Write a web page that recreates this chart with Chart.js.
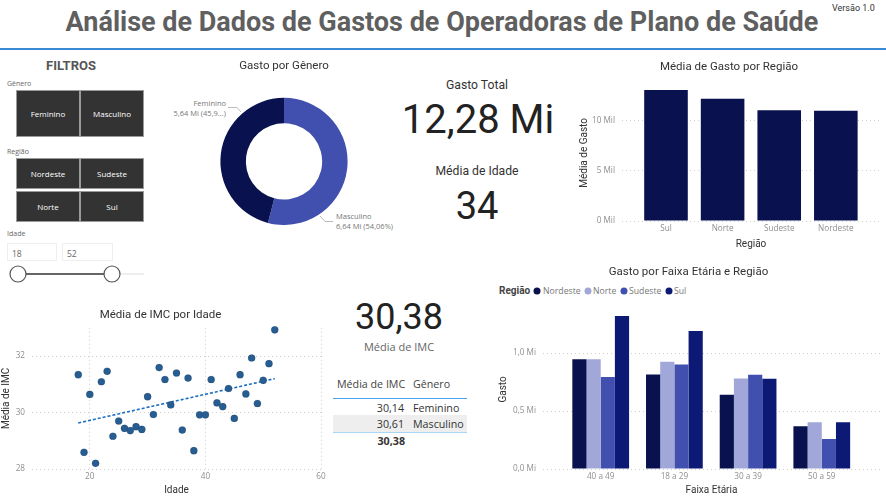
<!DOCTYPE html>
<html lang="pt-BR">
<head>
<meta charset="utf-8">
<title>Análise de Dados de Gastos</title>
<script src="https://cdn.jsdelivr.net/npm/chart.js@4/dist/chart.umd.min.js"></script>
<style>
  html, body { margin: 0; padding: 0; background: #fff; }
  #page { position: relative; width: 886px; height: 496px; overflow: hidden; font-family: "Open Sans", sans-serif; color: #333; }
  #page canvas { position: absolute; }
  .t { position: absolute; white-space: nowrap; line-height: 1; }
  .c { transform: translate(-50%, -50%); }
  .m { transform: translateY(-50%); }
  .din { font-family: Roboto, sans-serif; }
  .btn { position: absolute; background: #333; border: 1px solid #9a9a9a; box-sizing: border-box; color: #fff; font-size: 8px; display: flex; align-items: center; justify-content: center; }
  .inp { position: absolute; border: 1px solid #eee; box-sizing: border-box; font-size: 8.5px; color: #666; padding: 4px 4px; height: 18px; }
  .dot { position: absolute; width: 7px; height: 7px; border-radius: 50%; transform: translate(-50%, -50%); }
</style>
</head>
<body>
<div id="page">
  <div class="t c din" style="left:442px;top:22px;font-size:27px;font-weight:700;color:#5f5f5f">Análise de Dados de Gastos de Operadoras de Plano de Saúde</div>
  <div class="t m din" style="left:832px;top:8px;font-size:9px;color:#333">Versão 1.0</div>
  <div style="position:absolute;left:0;top:48px;width:886px;height:1.5px;background:#3b8ad6"></div>

  <div class="t c din" style="left:71px;top:65px;font-size:13px;font-weight:700;color:#555">FILTROS</div>
  <div class="t m" style="left:7px;top:83px;font-size:7px;color:#666">Gênero</div>
  <div class="btn" style="left:16px;top:90px;width:64px;height:47px">Feminino</div>
  <div class="btn" style="left:80px;top:90px;width:64px;height:47px">Masculino</div>
  <div class="t m" style="left:7px;top:151px;font-size:7px;color:#666">Região</div>
  <div class="btn" style="left:16px;top:158px;width:64px;height:31px">Nordeste</div>
  <div class="btn" style="left:80px;top:158px;width:64px;height:31px">Sudeste</div>
  <div class="btn" style="left:16px;top:191px;width:64px;height:31px">Norte</div>
  <div class="btn" style="left:80px;top:191px;width:64px;height:31px">Sul</div>
  <div class="t m" style="left:7px;top:233px;font-size:7px;color:#666">Idade</div>
  <div class="inp" style="left:7px;top:243px;width:50px">18</div>
  <div class="inp" style="left:62px;top:243px;width:51px">52</div>
  <svg style="position:absolute;left:0;top:262px" width="150" height="24">
    <line x1="112" y1="12" x2="144" y2="12" stroke="#eee" stroke-width="2"/>
    <line x1="18" y1="12" x2="112" y2="12" stroke="#666" stroke-width="2"/>
    <circle cx="18" cy="12" r="8" fill="#fff" stroke="#555" stroke-width="1.2"/>
    <circle cx="112" cy="12" r="8" fill="#fff" stroke="#555" stroke-width="1.2"/>
  </svg>

  <svg style="position:absolute;left:0;top:0;pointer-events:none" width="886" height="496">
    <polyline points="228,107.5 237,107.5 241,112" fill="none" stroke="#bbb"/>
    <polyline points="320,216 325,221.5 333,221.5" fill="none" stroke="#bbb"/>
  </svg>
  <div class="t" style="right:660px;top:98px;font-size:7.5px;line-height:10px;text-align:right;color:#777">Feminino<br>5,64 Mi (45,9...)</div>
  <div class="t" style="left:336px;top:211px;font-size:7.5px;line-height:10px;color:#777">Masculino<br>6,64 Mi (54,06%)</div>

  <div class="t c din" style="left:477px;top:84.5px;font-size:12.2px;color:#333">Gasto Total</div>
  <div class="t c din" style="left:478px;top:120px;font-size:40px;color:#222">12,28 Mi</div>
  <div class="t c din" style="left:477px;top:171px;font-size:12.2px;color:#333">Média de Idade</div>
  <div class="t c din" style="left:477px;top:206px;font-size:38px;color:#222">34</div>
  <div class="t c din" style="left:399px;top:317px;font-size:36px;color:#222">30,38</div>
  <div class="t c" style="left:399px;top:346px;font-size:11px;color:#666">Média de IMC</div>

  <div class="t m" style="left:337px;top:384px;font-size:10.7px;color:#444">Média de IMC</div>
  <div class="t m" style="left:413px;top:384px;font-size:10.7px;color:#444">Gênero</div>
  <div style="position:absolute;left:333px;top:398px;width:134px;height:1px;background:#4aa3f0"></div>
  <div style="position:absolute;left:333px;top:415px;width:134px;height:17px;background:#eee"></div>
  <div class="t m" style="right:482px;top:408px;font-size:10.7px;color:#333">30,14</div>
  <div class="t m" style="left:413px;top:408px;font-size:10.7px;color:#333">Feminino</div>
  <div class="t m" style="right:482px;top:424px;font-size:10.7px;color:#333">30,61</div>
  <div class="t m" style="left:413px;top:424px;font-size:10.7px;color:#333">Masculino</div>
  <div style="position:absolute;left:333px;top:432px;width:134px;height:1px;background:#a9d5f7"></div>
  <div class="t m" style="right:481px;top:441px;font-size:10.7px;font-weight:700;color:#333">30,38</div>

  <div class="t m din" style="left:499px;top:291px;font-size:10px;font-weight:700;color:#444">Região</div>
  <div id="legend"></div>
</div>

<script>
const generos = ['Masculino', 'Feminino'];
const gastoGenero = [6.64, 5.64];
const coresGenero = ['#4150AF', '#09124F'];

const regioesOrdem = ['Sul', 'Norte', 'Sudeste', 'Nordeste'];
const mediaGastoRegiao = [13070, 12200, 11070, 11000];
const ticksMediaGasto = [0, 5000, 10000];

const idades = [18, 19, 20, 21, 22, 23, 24, 25, 26, 27, 28, 29, 30, 31, 32, 33, 34, 35, 36, 37, 38, 39, 40, 41, 42, 43, 44, 45, 46, 47, 48, 49, 50, 51, 52];
const imcPorIdade = [31.34, 28.59, 30.64, 28.2, 31.09, 31.46, 29.16, 29.7, 29.44, 29.36, 29.5, 29.4, 30.56, 29.93, 31.59, 31.17, 30.27, 31.4, 29.38, 31.22, 28.65, 29.92, 29.92, 31.17, 30.34, 30.21, 30.85, 29.79, 31.34, 30.66, 31.93, 30.32, 31.14, 31.73, 32.93];
const tendenciaIdade = [18, 52];
const tendenciaImc = [29.63, 31.2];
const ticksIdade = [20, 40, 60];
const ticksImc = [28, 30, 32];

const faixas = ['40 a 49', '18 a 29', '30 a 39', '50 a 59'];
const regioes = ['Nordeste', 'Norte', 'Sudeste', 'Sul'];
const coresRegiao = ['#09124F', '#A1A7D8', '#4150AF', '#0D1A75'];
const gastoNordeste = [0.948, 0.816, 0.64, 0.369];
const gastoNorte = [0.948, 0.925, 0.781, 0.403];
const gastoSudeste = [0.793, 0.902, 0.813, 0.259];
const gastoSul = [1.32, 1.19, 0.778, 0.403];
const ticksGasto = [0, 0.5, 1];

const tickFont = { family: 'Open Sans', size: 8.2 };
const tickColor = '#8f8f8f';
const axisFont = { family: 'Roboto', size: 10 };
const axisColor = '#333';
const grade = { color: '#cfcfcf', drawTicks: false };
const bordaGrade = { display: false, dash: [1, 3] };

function novoCanvas(left, top, w, h) {
  const c = document.createElement('canvas');
  c.width = w;
  c.height = h;
  c.style.left = left + 'px';
  c.style.top = top + 'px';
  c.style.width = w + 'px';
  c.style.height = h + 'px';
  document.getElementById('page').appendChild(c);
  return c;
}

function titulo(text, gap) {
  return {
    display: true,
    text,
    color: '#333',
    font: { family: 'Roboto', size: 11.5, weight: 'normal' },
    padding: { top: 5, bottom: gap },
  };
}

function fixTicks(values) {
  return (scale) => {
    scale.ticks = values.map((value) => ({ value }));
  };
}

// the half tick label padding would shrink the plot area, so drop it
function semPadding(s) {
  s.paddingLeft = 0;
  s.paddingRight = 0;
  s.paddingTop = 0;
  s.paddingBottom = 0;
}

function eixoX(text, size, extra) {
  return Object.assign({
    type: 'linear',
    offset: false,
    title: { display: true, text, color: axisColor, font: axisFont, padding: 0 },
    border: { display: false },
    afterFit: (s) => {
      s.height = size;
      semPadding(s);
    },
  }, extra);
}

function xTicks(callback) {
  return { font: tickFont, color: tickColor, padding: 3, autoSkip: false, maxRotation: 0, callback };
}

function eixoY(text, size, min, max, values, fmt) {
  return {
    min,
    max,
    afterBuildTicks: fixTicks(values),
    title: { display: true, text, color: axisColor, font: axisFont, padding: 0 },
    ticks: { font: tickFont, color: tickColor, padding: 7, callback: fmt },
    grid: grade,
    border: bordaGrade,
    afterFit: (s) => {
      s.width = size;
      semPadding(s);
    },
  };
}

const baseOptions = { responsive: false, animation: false, devicePixelRatio: 1 };
const semGrade = { display: false, drawTicks: false };

// rosca
new Chart(novoCanvas(184, 54, 200, 171), {
  type: 'doughnut',
  data: {
    labels: generos,
    datasets: [{ data: gastoGenero, backgroundColor: coresGenero, borderWidth: 0 }],
  },
  options: {
    ...baseOptions,
    cutout: '60%',
    plugins: { legend: { display: false }, title: titulo('Gasto por Gênero', 25) },
  },
});

// media de gasto por regiao
new Chart(novoCanvas(578, 55, 302, 195), {
  type: 'bar',
  data: {
    datasets: [{
      data: mediaGastoRegiao.map((y, x) => ({ x, y })),
      backgroundColor: '#09124F',
      categoryPercentage: 0.77,
      barPercentage: 1,
    }],
  },
  options: {
    ...baseOptions,
    plugins: { legend: { display: false }, title: titulo('Média de Gasto por Região', 11) },
    scales: {
      x: eixoX('Região', 29, {
        min: -0.777,
        max: 3.78,
        afterBuildTicks: fixTicks(regioesOrdem.map((_, i) => i)),
        grid: semGrade,
        ticks: xTicks((v) => regioesOrdem[v]),
      }),
      y: eixoY('Média de Gasto', 44, 0, 13600, ticksMediaGasto, (v) => v / 1000 + ' Mil'),
    },
  },
});

// imc por idade
new Chart(novoCanvas(0, 303, 326, 193), {
  type: 'scatter',
  data: {
    datasets: [
      {
        data: idades.map((x, i) => ({ x, y: imcPorIdade[i] })),
        backgroundColor: '#275D91',
        pointRadius: 3.6,
        clip: false,
      },
      {
        type: 'line',
        data: tendenciaIdade.map((x, i) => ({ x, y: tendenciaImc[i] })),
        borderColor: '#1F6FC0',
        borderWidth: 1.6,
        borderDash: [3, 2],
        pointRadius: 0,
      },
    ],
  },
  options: {
    ...baseOptions,
    layout: { padding: { right: 5 } },
    plugins: { legend: { display: false }, title: titulo('Média de IMC por Idade', 6) },
    scales: {
      x: eixoX('Idade', 27, {
        min: 10,
        max: 60,
        afterBuildTicks: fixTicks(ticksIdade),
        grid: grade,
        border: bordaGrade,
        ticks: xTicks((v) => v),
      }),
      y: eixoY('Média de IMC', 32, 28, 33, ticksImc, (v) => v),
    },
  },
});

// gasto por faixa e regiao
const seriesRegiao = [gastoNordeste, gastoNorte, gastoSudeste, gastoSul];
new Chart(novoCanvas(497, 260, 386, 236), {
  type: 'bar',
  data: {
    datasets: regioes.map((label, r) => ({
      label,
      data: seriesRegiao[r].map((y, x) => ({ x, y })),
      backgroundColor: coresRegiao[r],
      categoryPercentage: 0.77,
      barPercentage: 1,
    })),
  },
  options: {
    ...baseOptions,
    layout: { padding: { right: 3 } },
    plugins: { legend: { display: false }, title: titulo('Gasto por Faixa Etária e Região', 31) },
    scales: {
      x: eixoX('Faixa Etária', 27, {
        min: -0.783,
        max: 3.79,
        afterBuildTicks: fixTicks(faixas.map((_, i) => i)),
        grid: semGrade,
        ticks: xTicks((v) => faixas[v]),
      }),
      y: eixoY('Gasto', 46, 0, 1.374, ticksGasto, (v) => v.toFixed(1).replace('.', ',') + ' Mi'),
    },
  },
});

// legenda
const legendaPos = [[537, 543], [588, 593], [624, 629], [669, 674]];
const legend = document.getElementById('legend');
regioes.forEach((nome, i) => {
  const d = document.createElement('div');
  d.className = 'dot';
  d.style.cssText = `left:${legendaPos[i][0]}px;top:291px;background:${coresRegiao[i]}`;
  legend.appendChild(d);
  const t = document.createElement('div');
  t.className = 't m';
  t.textContent = nome;
  t.style.cssText = `left:${legendaPos[i][1]}px;top:291px;font-size:8.7px;color:#777`;
  legend.appendChild(t);
});
</script>
</body>
</html>
